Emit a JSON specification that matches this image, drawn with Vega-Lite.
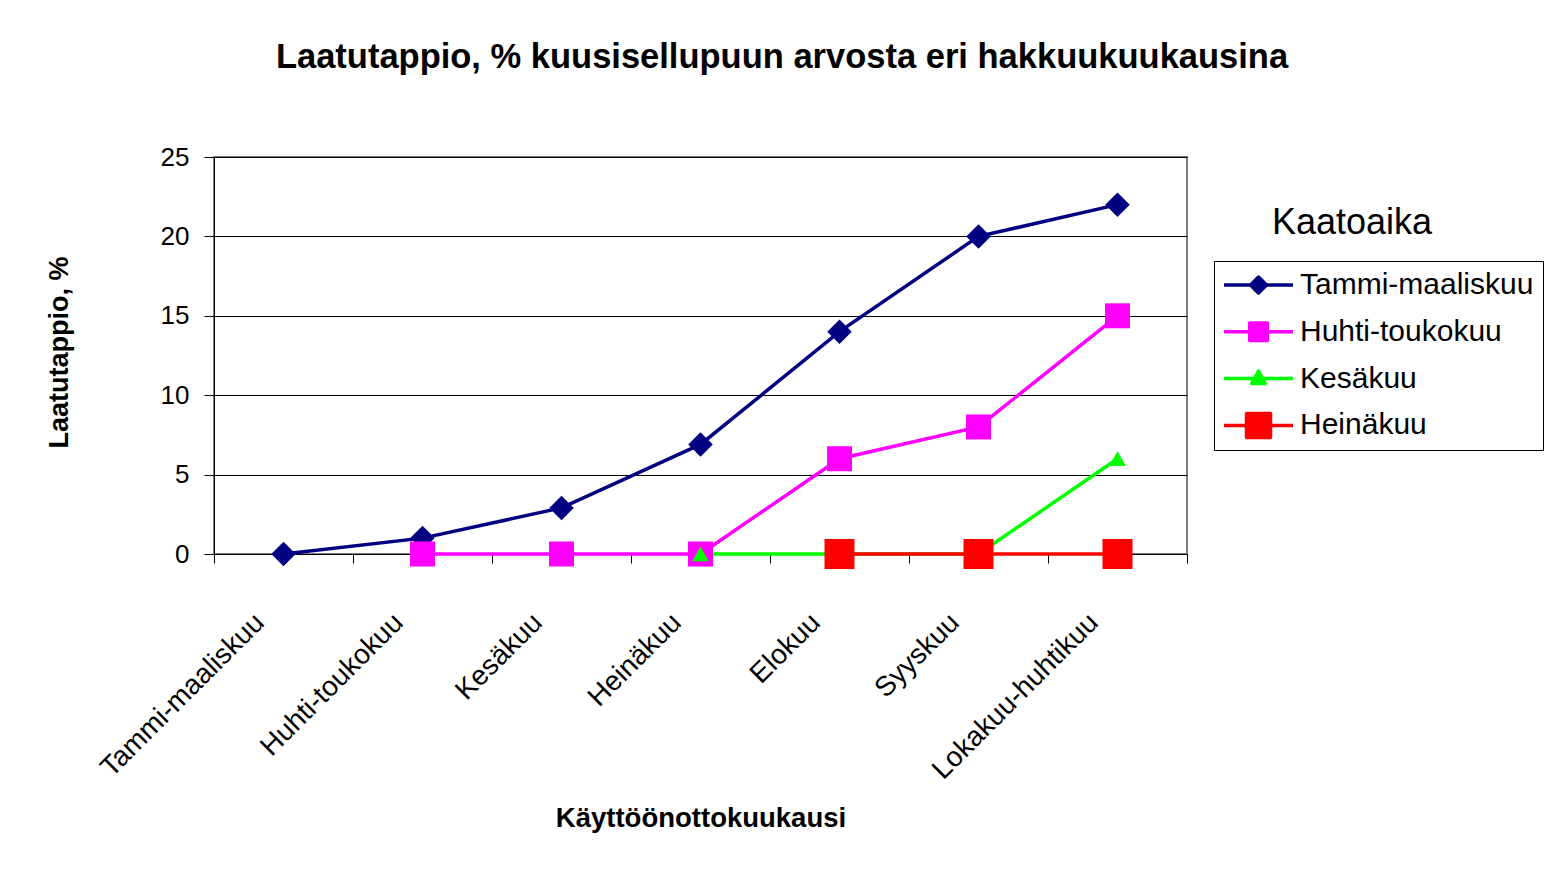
{
  "$schema": "https://vega.github.io/schema/vega-lite/v6.json",
  "width": 973,
  "height": 397,
  "autosize": "none",
  "padding": {"left": 214, "top": 157, "right": 360, "bottom": 316},
  "background": "#ffffff",
  "config": {
    "font": "Liberation Sans",
    "view": {"stroke": "#808080", "strokeWidth": 2}
  },
  "title": {
    "text": "Laatutappio, % kuusisellupuun arvosta eri hakkuukuukausina",
    "anchor": "middle",
    "frame": "group",
    "dx": 81.5,
    "offset": 42,
    "baseline": "alphabetic",
    "font": "Liberation Sans",
    "fontSize": 34.5,
    "fontWeight": "bold",
    "color": "#000000"
  },
  "data": {
    "values": [
      {"series": "Tammi-maaliskuu", "month": "Tammi-maaliskuu", "value": 0},
      {"series": "Tammi-maaliskuu", "month": "Huhti-toukokuu", "value": 1},
      {"series": "Tammi-maaliskuu", "month": "Kesäkuu", "value": 2.9},
      {"series": "Tammi-maaliskuu", "month": "Heinäkuu", "value": 6.9},
      {"series": "Tammi-maaliskuu", "month": "Elokuu", "value": 14},
      {"series": "Tammi-maaliskuu", "month": "Syyskuu", "value": 20},
      {"series": "Tammi-maaliskuu", "month": "Lokakuu-huhtikuu", "value": 22},
      {"series": "Huhti-toukokuu", "month": "Huhti-toukokuu", "value": 0},
      {"series": "Huhti-toukokuu", "month": "Kesäkuu", "value": 0},
      {"series": "Huhti-toukokuu", "month": "Heinäkuu", "value": 0},
      {"series": "Huhti-toukokuu", "month": "Elokuu", "value": 6},
      {"series": "Huhti-toukokuu", "month": "Syyskuu", "value": 8},
      {"series": "Huhti-toukokuu", "month": "Lokakuu-huhtikuu", "value": 15},
      {"series": "Kesäkuu", "month": "Heinäkuu", "value": 0},
      {"series": "Kesäkuu", "month": "Elokuu", "value": 0},
      {"series": "Kesäkuu", "month": "Syyskuu", "value": 0},
      {"series": "Kesäkuu", "month": "Lokakuu-huhtikuu", "value": 6},
      {"series": "Heinäkuu", "month": "Elokuu", "value": 0},
      {"series": "Heinäkuu", "month": "Syyskuu", "value": 0},
      {"series": "Heinäkuu", "month": "Lokakuu-huhtikuu", "value": 0}
    ]
  },
  "encoding": {
    "x": {
      "field": "month",
      "type": "nominal",
      "sort": ["Tammi-maaliskuu", "Huhti-toukokuu", "Kesäkuu", "Heinäkuu", "Elokuu", "Syyskuu", "Lokakuu-huhtikuu"],
      "scale": {"type": "band", "paddingInner": 0, "paddingOuter": 0},
      "axis": {
        "title": "Käyttöönottokuukausi",
        "titleFont": "Liberation Sans",
        "titleFontSize": 27.5,
        "titleFontWeight": "bold",
        "titleColor": "#000000",
        "titleX": 486.5,
        "titleY": 272,
        "titleAlign": "center",
        "titleBaseline": "alphabetic",
        "labelAngle": -45,
        "labelAlign": "right",
        "labelBaseline": "middle",
        "labelFont": "Liberation Sans",
        "labelFontSize": 28,
        "labelColor": "#000000",
        "labelPadding": 55,
        "labelOffset": -24,
        "labelLimit": 500,
        "labelOverlap": false,
        "tickSize": 9,
        "tickColor": "#000000",
        "tickBand": "extent",
        "domainColor": "#000000",
        "grid": false
      }
    },
    "color": {
      "field": "series",
      "type": "nominal",
      "scale": {
        "domain": ["Tammi-maaliskuu", "Huhti-toukokuu", "Kesäkuu", "Heinäkuu"],
        "range": ["#000080", "#FF00FF", "#00FF00", "#FF0000"]
      },
      "legend": {
        "orient": "none",
        "legendX": 1000,
        "legendY": 104,
        "title": null,
        "padding": 9,
        "strokeColor": "#000000",
        "fillColor": "#ffffff",
        "labelFont": "Liberation Sans",
        "labelFontSize": 30,
        "labelColor": "#000000",
        "labelLimit": 500,
        "labelOffset": 47,
        "rowPadding": 16.8,
        "symbolSize": 400,
        "symbolStrokeWidth": 3.5,
        "encode": {
          "symbols": {
            "update": {
              "shape": {"signal": "datum.value === 'Tammi-maaliskuu' ? 'M-1.4,0H5.5M2.05,-0.8L2.85,0L2.05,0.8L1.25,0Z' : datum.value === 'Huhti-toukokuu' ? 'M-1.4,0H5.5M1.17,-0.88H2.93V0.88H1.17Z' : datum.value === 'Kesäkuu' ? 'M-1.4,0H5.5M2.05,-0.75L2.73,0.5L1.37,0.5Z' : 'M-1.4,0H5.5M0.85,-1.2H3.25V1.2H0.85Z'"},
              "fill": {"scale": "color", "field": "value"},
              "stroke": {"scale": "color", "field": "value"},
              "strokeWidth": {"value": 3.5},
              "strokeJoin": {"value": "round"},
              "size": {"value": 400},
              "opacity": {"value": 1}
            }
          }
        }
      }
    }
  },
  "layer": [
    {
      "mark": {"type": "line", "strokeWidth": 3.5},
      "encoding": {
        "y": {
          "field": "value",
          "type": "quantitative",
          "scale": {"domain": [0, 25], "nice": false},
          "axis": {
            "title": "Laatutappio, %",
            "titleFont": "Liberation Sans",
            "titleFontSize": 27,
            "titleFontWeight": "bold",
            "titleColor": "#000000",
            "titleX": -147,
            "titleY": 195,
            "titleAngle": -90,
            "titleAlign": "center",
            "titleBaseline": "alphabetic",
            "values": [0, 5, 10, 15, 20, 25],
            "labelFont": "Liberation Sans",
            "labelFontSize": 26,
            "labelColor": "#000000",
            "labelPadding": 15,
            "tickSize": 10,
            "tickColor": "#000000",
            "domainColor": "#000000",
            "gridColor": "#000000",
            "gridWidth": 1,
            "grid": true
          }
        }
      }
    },
    {
      "mark": {"type": "point", "filled": true, "opacity": 1},
      "encoding": {
        "y": {
          "field": "value",
          "type": "quantitative",
          "scale": {"domain": [0, 25], "nice": false},
          "axis": {
            "orient": "right",
            "labels": false,
            "ticks": false,
            "domain": false,
            "grid": false,
            "title": "Kaatoaika",
            "titleFont": "Liberation Sans",
            "titleFontSize": 36,
            "titleFontWeight": "normal",
            "titleColor": "#000000",
            "titleAngle": 0,
            "titleX": 164.5,
            "titleY": 76,
            "titleAlign": "center",
            "titleBaseline": "alphabetic"
          }
        },
        "shape": {
          "condition": [
            {"test": "datum.series === 'Tammi-maaliskuu'", "value": "diamond"},
            {"test": "datum.series === 'Kesäkuu'", "value": "triangle-up"}
          ],
          "value": "square"
        },
        "size": {
          "condition": [
            {"test": "datum.series === 'Tammi-maaliskuu'", "value": 600},
            {"test": "datum.series === 'Huhti-toukokuu'", "value": 625},
            {"test": "datum.series === 'Kesäkuu'", "value": 289}
          ],
          "value": 900
        }
      }
    }
  ],
  "resolve": {"axis": {"y": "independent"}}
}
